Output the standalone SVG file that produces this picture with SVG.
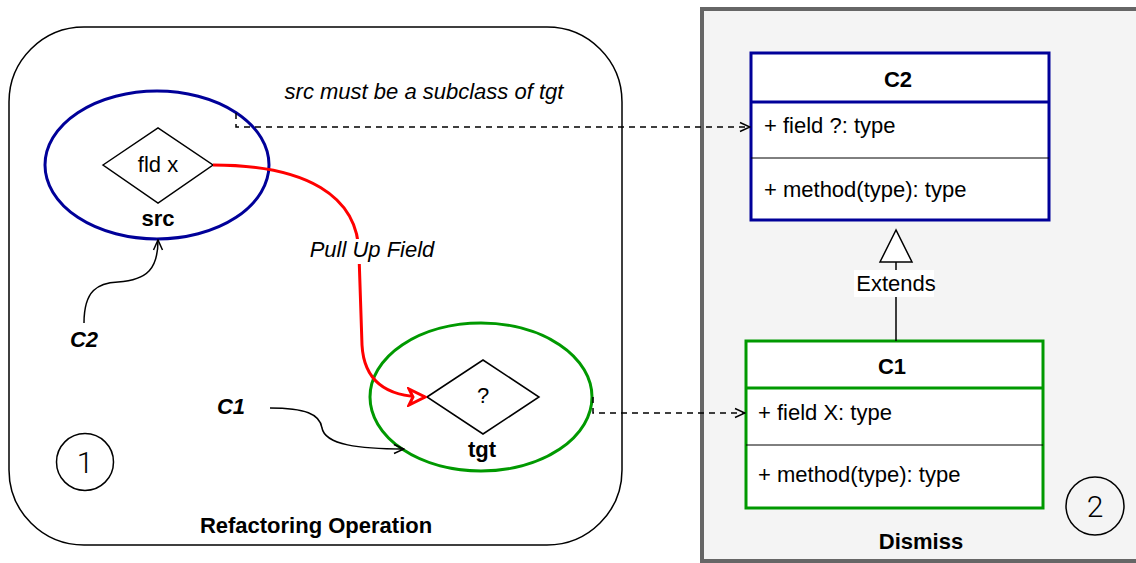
<svg xmlns="http://www.w3.org/2000/svg" width="1136" height="563" viewBox="0 0 1136 563">
<style>
text{font-family:"Liberation Sans",Arial,Helvetica,sans-serif;font-size:22px;fill:#000}
.c{text-anchor:middle}
.b{font-weight:bold}
.i{font-style:italic}
.num{font-family:Roboto,"Liberation Sans",sans-serif;font-weight:300;font-size:30px}
.dash{fill:none;stroke:#000;stroke-width:1.5;stroke-dasharray:6 5}
.thin{fill:none;stroke:#000;stroke-width:1.5}
.diamond{fill:#fff;stroke:#000;stroke-width:1.5}
</style>
<defs>
<marker id="open" viewBox="0 0 12 12" refX="11" refY="6" markerWidth="12" markerHeight="12" markerUnits="userSpaceOnUse" orient="auto">
<path d="M1,1.5 L11,6 L1,10.5" fill="none" stroke="#000" stroke-width="1.5"/>
</marker>
<marker id="redarrow" viewBox="0 0 20 20" refX="18" refY="10" markerWidth="20" markerHeight="20" markerUnits="userSpaceOnUse" orient="auto">
<path d="M2,2 L18,10 L2,18 L6,10 Z" fill="#fff" stroke="#f00" stroke-width="3" stroke-linejoin="miter"/>
</marker>
</defs>

<g id="dismiss-panel">
<rect x="702" y="9" width="460" height="552" fill="#f4f4f4" stroke="#666" stroke-width="4"/>
<text class="c b" x="921" y="549">Dismiss</text>
<ellipse cx="1095" cy="506" rx="29" ry="29" fill="none" stroke="#000" stroke-width="1.5"/>
<text class="c num" x="1095" y="517">2</text>
</g>

<g id="refactoring-operation">
<rect x="9" y="27" width="613" height="518" rx="75" ry="75" fill="#fff" stroke="#000" stroke-width="1.5"/>
<text class="c b" x="316" y="533">Refactoring Operation</text>
<ellipse cx="85" cy="462" rx="28.5" ry="28.5" fill="none" stroke="#000" stroke-width="1.5"/>
<text class="c num" x="85" y="473">1</text>
<text class="c i" x="424" y="99">src must be a subclass of tgt</text>
</g>

<g id="src">
<ellipse cx="157" cy="165" rx="112" ry="74" fill="#fff" stroke="#000099" stroke-width="3"/>
<polygon class="diamond" points="103,165 158,128 213,165 158,203"/>
<text class="c" x="158" y="172">fld x</text>
<text class="c b" x="158" y="226">src</text>
</g>

<g id="tgt">
<ellipse cx="481" cy="397" rx="111" ry="74" fill="#fff" stroke="#009900" stroke-width="3"/>
<polygon class="diamond" points="427,397 483,360 539,397 483,434"/>
<text class="c" x="483" y="403">?</text>
<text class="c b" x="482" y="457">tgt</text>
</g>

<g id="label-c2">
<text class="c b i" x="84" y="347">C2</text>
</g>
<g id="label-c1">
<text class="c b i" x="231" y="414">C1</text>
</g>

<g id="class-c2">
<rect x="751" y="53" width="298" height="167" fill="#fff" stroke="#000099" stroke-width="3"/>
<line x1="751" y1="102" x2="1049" y2="102" stroke="#000099" stroke-width="3"/>
<line x1="751" y1="158" x2="1049" y2="158" stroke="#000" stroke-width="1"/>
<text class="c b" x="898" y="87">C2</text>
<text x="764" y="133">+ field ?: type</text>
<text x="764" y="197">+ method(type): type</text>
</g>

<g id="class-c1">
<rect x="746" y="341" width="297" height="167" fill="#fff" stroke="#009900" stroke-width="3"/>
<line x1="746" y1="388" x2="1043" y2="388" stroke="#009900" stroke-width="3"/>
<line x1="746" y1="445" x2="1043" y2="445" stroke="#000" stroke-width="1"/>
<text class="c b" x="892" y="374">C1</text>
<text x="758" y="420">+ field X: type</text>
<text x="758" y="482">+ method(type): type</text>
</g>

<g id="connectors">
<path class="dash" d="M236,113 L236,127 L750,127" marker-end="url(#open)"/>
<path class="dash" d="M593,397 L593,413 L745,413" marker-end="url(#open)"/>
<path d="M213,165 C305,165 359,195 359,255 L362,345 C364,382 388,397 425,397" fill="none" stroke="#f00" stroke-width="3" marker-end="url(#redarrow)"/>
<rect x="307" y="239" width="131" height="25" fill="#fff"/>
<text class="c i" x="372" y="257">Pull Up Field</text>
<path class="thin" d="M84,323 C84,290 98,283 118,282 C148,280 158,268 158,240" marker-end="url(#open)"/>
<path class="thin" d="M270,408 C305,408 320,414 322,428 C325,445 360,449 404,449" marker-end="url(#open)"/>
<line x1="896" y1="262" x2="896" y2="341" stroke="#000" stroke-width="1.5"/>
<polygon points="896,230 880,262 912,262" fill="#fff" stroke="#000" stroke-width="1.5"/>
<rect x="854" y="270" width="80" height="27" fill="#fff"/>
<text class="c" x="896" y="291">Extends</text>
</g>
</svg>
